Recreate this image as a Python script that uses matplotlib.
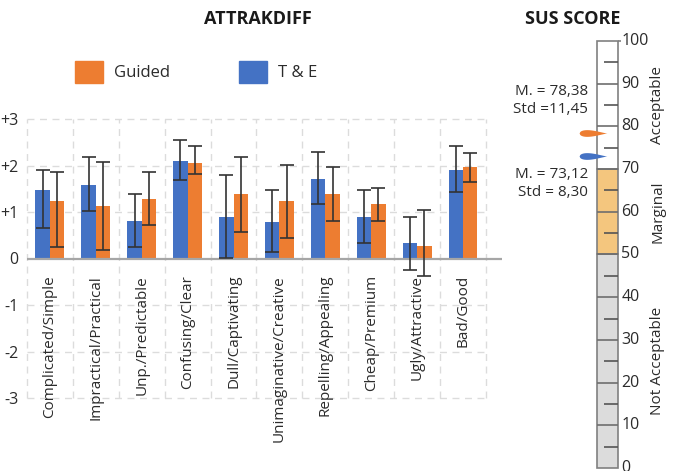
import numpy as np
import matplotlib
matplotlib.use('Agg')
import matplotlib.pyplot as plt
from matplotlib.path import Path
from matplotlib.patches import Patch

plt.rcParams['font.family'] = ['Open Sans', 'DejaVu Sans']

# attrakdiff word pairs, mean and interval ends
pairs = ['Complicated/Simple', 'Impractical/Practical', 'Unp./Predictable', 'Confusing/Clear',
         'Dull/Captivating', 'Unimaginative/Creative', 'Repelling/Appealing', 'Cheap/Premium',
         'Ugly/Attractive', 'Bad/Good']
te_mean = [1.48, 1.58, 0.81, 2.10, 0.90, 0.79, 1.72, 0.90, 0.33, 1.91]
te_low = [0.66, 1.03, 0.24, 1.68, 0.01, 0.15, 1.17, 0.34, -0.25, 1.43]
te_high = [1.90, 2.18, 1.39, 2.54, 1.79, 1.48, 2.28, 1.47, 0.90, 2.41]
guided_mean = [1.23, 1.12, 1.28, 2.06, 1.39, 1.23, 1.39, 1.18, 0.26, 1.97]
guided_low = [0.24, 0.18, 0.73, 1.82, 0.57, 0.44, 0.81, 0.81, -0.38, 1.65]
guided_high = [1.87, 2.07, 1.87, 2.41, 2.19, 2.01, 1.96, 1.52, 1.04, 2.27]
y_ticks = [3, 2, 1, 0, -1, -2, -3]
y_labels = ['+3', '+2', '+1', '0', '-1', '-2', '-3']

# SUS scale
band_low = [0, 50, 70]
band_high = [50, 70, 100]
band_names = ['Not Acceptable', 'Marginal', 'Acceptable']
band_colors = ['#dcdcdc', '#f4c67e', '#ffffff']
sus_ticks = [0, 10, 20, 30, 40, 50, 60, 70, 80, 90, 100]
sus_guided = 78.38
sus_guided_std = 11.45
sus_te = 73.12
sus_te_std = 8.30

blue = '#4472c4'
orange = '#ed7d31'
grid_c = '#dcdcdc'
txt_c = '#2b2b2b'

fig = plt.figure(figsize=(6.75, 4.71), dpi=100)
ax = fig.add_axes([27 / 675, 1 - 398 / 471, 475 / 675, 279 / 471])
ax.set_xlim(-0.5, 9.85)
ax.set_ylim(-3, 3)

x = np.arange(len(pairs))
w = 0.315

# dashed grid inside the category cells
ax.hlines([v for v in y_ticks if v != 0], -0.5, 9.5, colors=grid_c, linestyles=(0, (5, 4)), lw=1, clip_on=False)
ax.vlines(np.arange(-0.5, 10), -3, 3, colors=grid_c, linestyles=(0, (5, 4)), lw=1, clip_on=False)
ax.axhline(0, color='#a6a6a6', lw=1.6, zorder=3)

te_err = [np.array(te_mean) - np.array(te_low), np.array(te_high) - np.array(te_mean)]
gu_err = [np.array(guided_mean) - np.array(guided_low), np.array(guided_high) - np.array(guided_mean)]
ax.bar(x - w / 2, te_mean, w, color=blue, zorder=2)
ax.bar(x + w / 2, guided_mean, w, color=orange, zorder=2)
ax.errorbar(x - w / 2, te_mean, yerr=te_err, fmt='none', ecolor='#333333', elinewidth=1.2,
            capsize=5, capthick=1.2, zorder=4)
ax.errorbar(x + w / 2, guided_mean, yerr=gu_err, fmt='none', ecolor='#333333', elinewidth=1.2,
            capsize=5, capthick=1.2, zorder=4)

for i, name in enumerate(pairs):
    ax.text(i, -0.35, name, rotation=90, ha='center', va='top', fontsize=11, color=txt_c)

ax.set_yticks(y_ticks)
ax.set_yticklabels(y_labels, fontsize=11.5, color=txt_c)
ax.set_xticks([])
ax.tick_params(axis='y', length=0, pad=6)
for s in ax.spines.values():
    s.set_visible(False)

handles = [Patch(color=orange, label='Guided'), Patch(color=blue, label='T & E')]
fig.legend(handles=handles, loc='center left', bbox_to_anchor=(75 / 675, 1 - 72 / 471), ncol=2,
           frameon=False, fontsize=12, handlelength=1.7, handleheight=1.7, handletextpad=0.65,
           columnspacing=4.1, borderpad=0, borderaxespad=0, labelcolor=txt_c)

fig.text(258 / 675, 1 - 19 / 471, 'ATTRAKDIFF', fontsize=13, fontweight='bold', ha='center', va='center',
         color='#1a1a1a')
fig.text(573 / 675, 1 - 19 / 471, 'SUS SCORE', fontsize=13, fontweight='bold', ha='center', va='center',
         color='#1a1a1a')

# SUS thermometer
ax2 = fig.add_axes([597 / 675, 1 - 468 / 471, 21 / 675, 427 / 471])
ax2.set_xlim(0, 1)
ax2.set_ylim(0, 100)
ax2.axis('off')
for lo, hi, c in zip(band_low, band_high, band_colors):
    ax2.bar(0.5, hi - lo, bottom=lo, width=1, color=c, edgecolor='#808080', lw=1.2, clip_on=False)
ax2.hlines(sus_ticks[1:-1], 0, 1, colors='#6e6e6e', lw=1.2)
ax2.hlines(np.array(sus_ticks[:-1]) + 5, 0.35, 1, colors='#555555', lw=1.2)
ax2.hlines(100, 1, 1.12, colors='#808080', lw=1.2, clip_on=False)
for v in sus_ticks:
    ax2.text(1.15, v, str(v), ha='left', va='center', fontsize=11.5, color=txt_c, clip_on=False)
for lo, hi, name in zip(band_low, band_high, band_names):
    ax2.text(2.9, (lo + hi) / 2, name, rotation=90, ha='center', va='center', fontsize=11,
             color=txt_c, clip_on=False)

s = np.linspace(0, 1, 40)
hh = 0.7 * np.sqrt(s) * (1 - s) ** 1.3
drop = Path(np.column_stack([np.concatenate([2 * s - 1, (2 * s - 1)[::-1]]),
                             np.concatenate([hh, -hh[::-1]])]))
ax2.plot(-0.17, sus_guided, marker=drop, ms=20, color=orange, mew=0, clip_on=False)
ax2.plot(-0.17, sus_te, marker=drop, ms=20, color=blue, mew=0, clip_on=False)
ax2.text(-0.43, 86, 'M. = %s\nStd =%s' % (f'{sus_guided:.2f}'.replace('.', ','),
                                           f'{sus_guided_std:.2f}'.replace('.', ',')),
         ha='right', va='center', multialignment='right', fontsize=11, color=txt_c,
         linespacing=1.3)
ax2.text(-0.43, 66.7, 'M. = %s\nStd = %s' % (f'{sus_te:.2f}'.replace('.', ','),
                                             f'{sus_te_std:.2f}'.replace('.', ',')),
         ha='right', va='center', multialignment='right', fontsize=11, color=txt_c,
         linespacing=1.3)

fig.savefig('out.png', dpi=100)
